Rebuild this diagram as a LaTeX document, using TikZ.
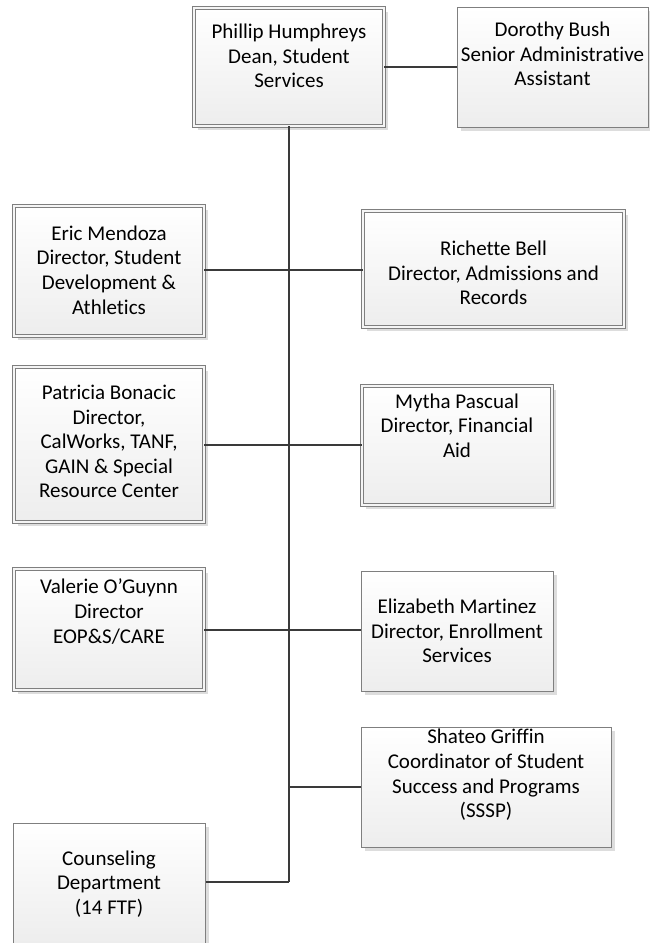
\documentclass[tikz,border=0pt]{standalone}
\usepackage{fontspec}
\setmainfont{Carlito}[Ligatures=NoCommon]
\usetikzlibrary{shadows}
\definecolor{bordergray}{HTML}{7F7F7F}
\definecolor{linegray}{HTML}{3A3A3A}
\definecolor{shadowgray}{HTML}{DDDDDD}
\tikzset{
  box/.style={draw=bordergray, line width=1pt, rectangle, inner sep=0pt,
    top color=white, bottom color=black!7,
    drop shadow={shadow xshift=3.5pt, shadow yshift=-3.5pt, fill=shadowgray, opacity=1}},
  dbox/.style={box, double=white!96!black, double distance=2.5pt, line width=0.9pt},
  txt/.style={align=center, font=\fontsize{21}{24.6}\selectfont, text=black, inner sep=0pt},
  conn/.style={draw=linegray, line width=2.8pt}
}
\begin{document}
\begin{tikzpicture}[x=1pt, y=-1pt]
\useasboundingbox (0,0) rectangle (650,943);
% boxes
\node[dbox, minimum width=190pt, minimum height=118pt] (ph) at (289,67) {};
\node[box,  minimum width=191pt, minimum height=120pt] (db) at (552.5,67) {};
\node[dbox, minimum width=190pt, minimum height=130pt] (em) at (109,271) {};
\node[dbox, minimum width=261pt, minimum height=116pt] (rb) at (493.5,269) {};
\node[dbox, minimum width=190pt, minimum height=155pt] (pb) at (109,444.5) {};
\node[dbox, minimum width=190pt, minimum height=119pt] (mp) at (457,445.5) {};
\node[dbox, minimum width=190pt, minimum height=121pt] (vo) at (109,629.5) {};
\node[box,  minimum width=192pt, minimum height=120pt] (el) at (457,631) {};
\node[box,  minimum width=250pt, minimum height=120pt] (sg) at (486,787) {};
\node[box,  minimum width=192pt, minimum height=120pt] (cd) at (109,883) {};
% texts
\node[txt] (pht) at ([yshift=11pt]ph.center) {Phillip Humphreys\\Dean, Student\\Services};
\node[txt] (dbt) at ([yshift=13pt]db.center) {Dorothy Bush\\Senior Administrative\\Assistant};
\node[txt] (emt) at ([yshift=1pt]em.center) {Eric Mendoza\\Director, Student\\Development \&\\Athletics};
\node[txt] (rbt) at ([yshift=-4pt]rb.center) {Richette Bell\\Director, Admissions and\\Records};
\node[txt] (pbt) at ([yshift=3pt]pb.center) {Patricia Bonacic\\Director,\\CalWorks, TANF,\\GAIN \& Special\\Resource Center};
\node[txt] (mpt) at ([yshift=20pt]mp.center) {Mytha Pascual\\Director, Financial\\Aid};
\node[txt] (vot) at ([yshift=18pt]vo.center) {Valerie O’Guynn\\Director\\EOP\&S/CARE};
\node[txt] (elt) at ([yshift=0pt]el.center) {Elizabeth Martinez\\Director, Enrollment\\Services};
\node[txt] (sgt) at ([yshift=12pt]sg.center) {Shateo Griffin\\Coordinator of Student\\Success and Programs\\(SSSP)};
\node[txt] (cdt) at ([yshift=-1pt]cd.center) {Counseling\\Department\\(14 FTF)};
% connectors
\coordinate (j1) at (289,270);
\coordinate (j2) at (289,445);
\coordinate (j3) at (289,630);
\coordinate (j4) at (289,787);
\coordinate (j5) at (289,882);
\draw[conn] (ph.east) -- (db.west);
\draw[conn] (ph.south) -- (j5);
\draw[conn] (em.east |- j1) -- (rb.west |- j1);
\draw[conn] (pb.east |- j2) -- (mp.west |- j2);
\draw[conn] (vo.east |- j3) -- (el.west |- j3);
\draw[conn] (j4) -- (sg.west |- j4);
\draw[conn, line join=miter] (cd.east |- j5) -- (j5);
\end{tikzpicture}
\end{document}
